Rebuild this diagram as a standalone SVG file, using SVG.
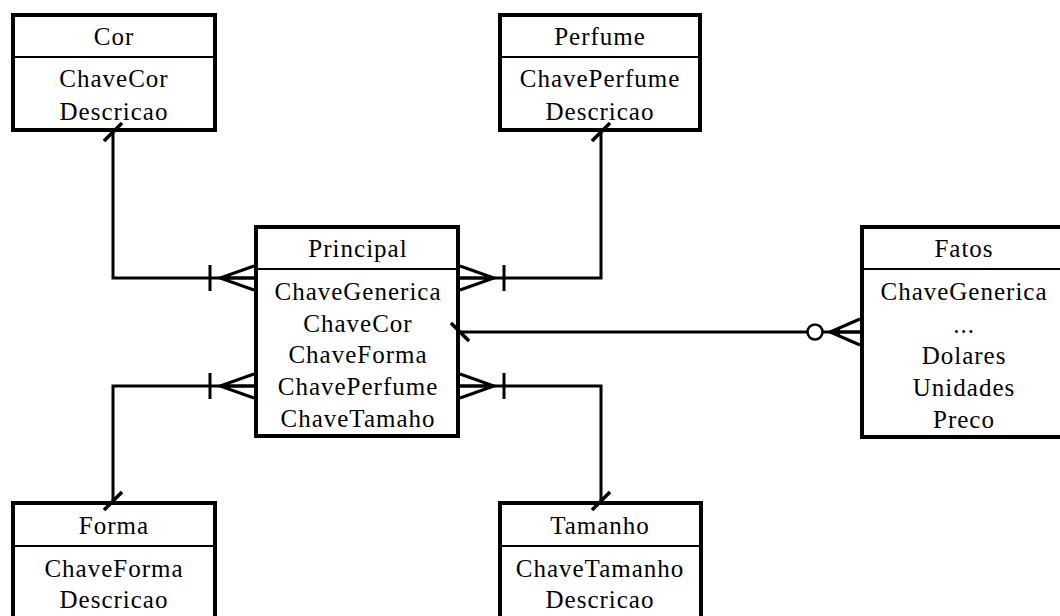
<svg xmlns="http://www.w3.org/2000/svg" width="1060" height="616" viewBox="0 0 1060 616">
  <style>
    .box { fill: #fff; stroke: #000; stroke-width: 4; }
    .sep { stroke: #000; stroke-width: 2; }
    .lbl { font-family: "Liberation Serif", "Times New Roman", serif; font-size: 25px; letter-spacing: 1px; text-anchor: middle; fill: #000; }
    .conn { fill: none; stroke: #000; stroke-width: 3; }
  </style>
  <defs>
    <!-- many-and-one end (crow's foot with a bar) -->
    <marker id="manyOne" markerUnits="userSpaceOnUse" orient="auto" refX="0" refY="0" markerWidth="60" markerHeight="40" overflow="visible">
      <path d="M0,-12 L34,0 L0,12 M0,0 H34 M44,-13 V13" fill="none" stroke="#000" stroke-width="3"/>
      <path d="M24,-4 L34,0 L24,4 Z" fill="#000"/>
    </marker>
    <!-- zero-or-many end (crow's foot with a circle) -->
    <marker id="zeroMany" markerUnits="userSpaceOnUse" orient="auto" refX="0" refY="0" markerWidth="60" markerHeight="40" overflow="visible">
      <path d="M0,-13 L30,0 L0,13 M0,0 H30" fill="none" stroke="#000" stroke-width="3"/>
      <path d="M20,-4 L30,0 L20,4 Z" fill="#000"/>
      <circle cx="45" cy="0" r="7.5" fill="#fff" stroke="#000" stroke-width="2.5"/>
    </marker>
    <!-- slash tick where a connector meets its target -->
    <marker id="tick" markerUnits="userSpaceOnUse" orient="auto" refX="0" refY="0" markerWidth="30" markerHeight="30" overflow="visible">
      <path d="M-9,-9 L9,9" fill="none" stroke="#000" stroke-width="3.5"/>
    </marker>
  </defs>

  <rect width="1060" height="616" fill="#fff"/>

  <g id="cor">
    <rect class="box" x="13" y="15" width="202" height="115"/>
    <line class="sep" x1="13" y1="57" x2="215" y2="57"/>
    <text class="lbl" x="114" y="45">Cor</text>
    <text class="lbl" x="114" y="87">ChaveCor</text>
    <text class="lbl" x="114" y="120">Descricao</text>
  </g>

  <g id="perfume">
    <rect class="box" x="500" y="15" width="200" height="115"/>
    <line class="sep" x1="500" y1="57" x2="700" y2="57"/>
    <text class="lbl" x="600" y="45">Perfume</text>
    <text class="lbl" x="600" y="87">ChavePerfume</text>
    <text class="lbl" x="600" y="120">Descricao</text>
  </g>

  <g id="principal">
    <rect class="box" x="256" y="227" width="202" height="209"/>
    <line class="sep" x1="256" y1="269" x2="458" y2="269"/>
    <text class="lbl" x="358" y="257">Principal</text>
    <text class="lbl" x="358" y="300">ChaveGenerica</text>
    <text class="lbl" x="358" y="332">ChaveCor</text>
    <text class="lbl" x="358" y="363">ChaveForma</text>
    <text class="lbl" x="358" y="395">ChavePerfume</text>
    <text class="lbl" x="358" y="427">ChaveTamaho</text>
  </g>

  <g id="fatos">
    <rect class="box" x="862" y="227" width="206" height="210"/>
    <line class="sep" x1="862" y1="269" x2="1068" y2="269"/>
    <text class="lbl" x="964" y="257">Fatos</text>
    <text class="lbl" x="964" y="300">ChaveGenerica</text>
    <text class="lbl" x="964" y="333">...</text>
    <text class="lbl" x="964" y="364">Dolares</text>
    <text class="lbl" x="964" y="396">Unidades</text>
    <text class="lbl" x="964" y="428">Preco</text>
  </g>

  <g id="forma">
    <rect class="box" x="13" y="503" width="202" height="130"/>
    <line class="sep" x1="13" y1="546" x2="215" y2="546"/>
    <text class="lbl" x="114" y="534">Forma</text>
    <text class="lbl" x="114" y="577">ChaveForma</text>
    <text class="lbl" x="114" y="608">Descricao</text>
  </g>

  <g id="tamanho">
    <rect class="box" x="500" y="503" width="201" height="130"/>
    <line class="sep" x1="500" y1="546" x2="701" y2="546"/>
    <text class="lbl" x="600" y="534">Tamanho</text>
    <text class="lbl" x="600" y="577">ChaveTamanho</text>
    <text class="lbl" x="600" y="608">Descricao</text>
  </g>

  <!-- relationship lines, drawn last so the end ticks sit over the box borders -->
  <g id="connectors">
    <path class="conn" d="M254,278 H113 V132" marker-start="url(#manyOne)" marker-end="url(#tick)"/>
    <path class="conn" d="M460,278 H601 V132" marker-start="url(#manyOne)" marker-end="url(#tick)"/>
    <path class="conn" d="M254,386 H113 V501" marker-start="url(#manyOne)" marker-end="url(#tick)"/>
    <path class="conn" d="M460,386 H601 V501" marker-start="url(#manyOne)" marker-end="url(#tick)"/>
    <path class="conn" d="M860,332 H460" marker-start="url(#zeroMany)" marker-end="url(#tick)"/>
  </g>
</svg>
